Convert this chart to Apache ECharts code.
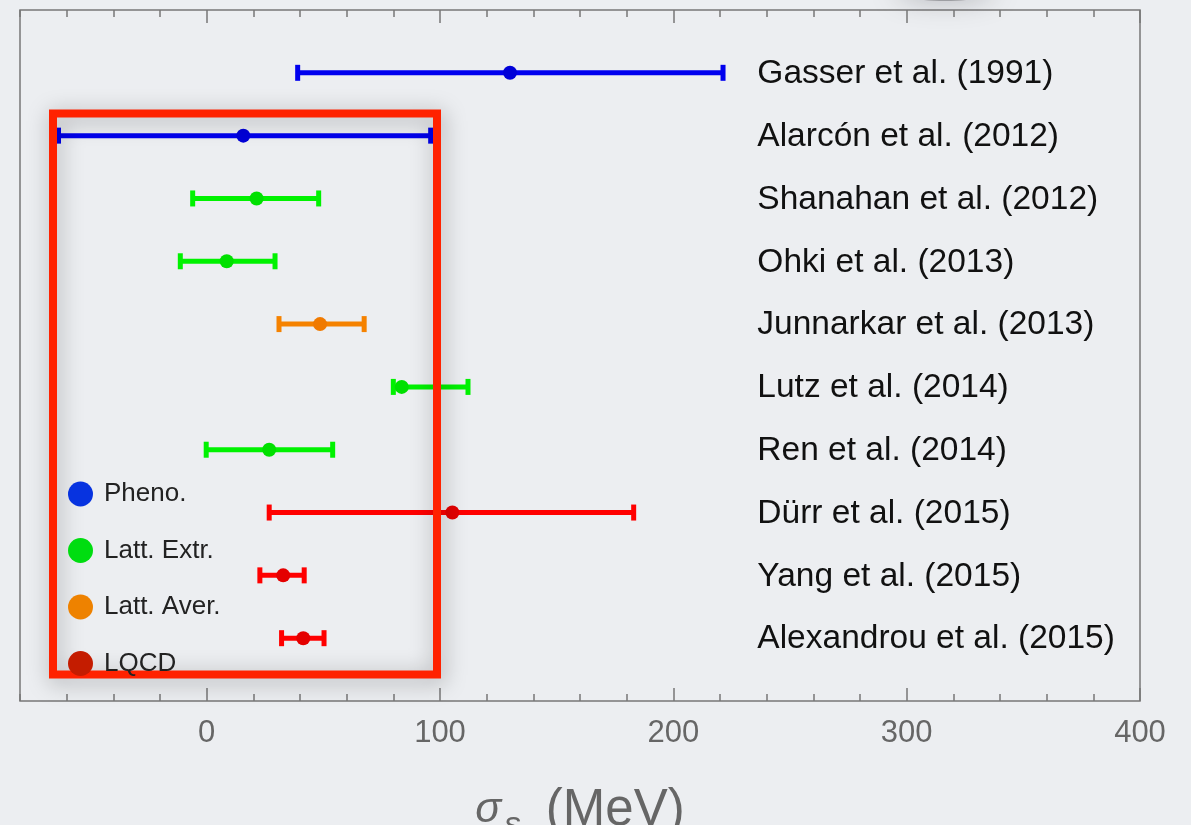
<!DOCTYPE html>
<html>
<head>
<meta charset="utf-8">
<script src="https://cdn.jsdelivr.net/npm/echarts@6/dist/echarts.min.js"></script>
<style>
  html, body { margin: 0; padding: 0; background: #eceef1; }
  #chart { width: 1191px; height: 825px; }
</style>
</head>
<body>
<div id="chart"></div>
<script>
// Strange-quark sigma term determinations (MeV): central value with lower/upper ends of the error bar
const studies = [
  'Gasser et al. (1991)',
  'Alarcón et al. (2012)',
  'Shanahan et al. (2012)',
  'Ohki et al. (2013)',
  'Junnarkar et al. (2013)',
  'Lutz et al. (2014)',
  'Ren et al. (2014)',
  'Dürr et al. (2015)',
  'Yang et al. (2015)',
  'Alexandrou et al. (2015)'
];
const central = [130, 15.7, 21.4, 8.6, 48.6, 83.6, 26.8, 105.3, 32.8, 41.4];
const lower   = [39, -63.5, -6, -11.3, 31, 80, -0.2, 26.8, 22.8, 32.1];
const upper   = [221.3, 96, 48, 29.3, 67.5, 112, 54, 183, 41.8, 50.3];
const method  = ['Pheno.', 'Pheno.', 'Latt. Extr.', 'Latt. Extr.', 'Latt. Aver.',
                 'Latt. Extr.', 'Latt. Extr.', 'LQCD', 'LQCD', 'LQCD'];

const groups      = ['Pheno.', 'Latt. Extr.', 'Latt. Aver.', 'LQCD'];
const barColors   = ['#0000ee', '#00f200', '#f58200', '#ff0000'];
const dotColors   = ['#0000d8', '#00e000', '#f07a00', '#e40000'];
const keyColors   = ['#0733e0', '#00dd10', '#ee8200', '#c41c00'];

const majorTicks = [0, 100, 200, 300, 400];

const FONT = '"Liberation Sans", Arial, Helvetica, sans-serif';
const labelX = 236;   // data-space x where the study names start

const chart = echarts.init(document.getElementById('chart'), null, { renderer: 'canvas' });

function renderItem(params, api) {
  const row = api.value(0);
  const pL = api.coord([api.value(1), row]);
  const pC = api.coord([api.value(2), row]);
  const pH = api.coord([api.value(3), row]);
  const g = groups.indexOf(method[row]);
  const bar = barColors[g];
  const capW = 5, capH = 16;
  return {
    type: 'group',
    children: [
      { type: 'line', shape: { x1: pL[0], y1: pL[1], x2: pH[0], y2: pH[1] },
        style: { stroke: bar, lineWidth: 5 } },
      { type: 'rect', shape: { x: pL[0] - capW / 2, y: pL[1] - capH / 2, width: capW, height: capH },
        style: { fill: bar } },
      { type: 'rect', shape: { x: pH[0] - capW / 2, y: pH[1] - capH / 2, width: capW, height: capH },
        style: { fill: bar } },
      { type: 'circle', shape: { cx: pC[0], cy: pC[1], r: 7 },
        style: { fill: dotColors[g] } },
      { type: 'text', x: api.coord([labelX, row])[0], y: pC[1] + 1,
        style: { text: studies[row], fill: '#111', font: '33.5px ' + FONT,
                 align: 'left', verticalAlign: 'middle' } }
    ]
  };
}

const series = groups.map((grp, gi) => ({
  name: grp,
  type: 'custom',
  renderItem: renderItem,
  itemStyle: { color: keyColors[gi] },
  encode: { x: [1, 2, 3], y: 0 },
  data: studies.map((s, i) => i)
    .filter(i => method[i] === grp)
    .map(i => [i, lower[i], central[i], upper[i]]),
  z: 2
}));

const tickStyle = { color: '#777', width: 1.5 };

function axis(position, kind) {
  const base = {
    type: 'value', position: position, min: -80, max: 400,
    axisLine: { show: false, onZero: false }, splitLine: { show: false },
    axisLabel: { show: false }
  };
  if (kind === 'minor') {
    base.interval = 20;
    base.axisTick = { show: true, inside: true, length: 7, lineStyle: tickStyle };
  } else {
    base.axisTick = { show: true, inside: true, length: 13, customValues: majorTicks, lineStyle: tickStyle };
  }
  return base;
}

const xMain = axis('bottom', 'minor');
xMain.axisLabel = {
  show: true, customValues: majorTicks, color: '#666', fontSize: 31,
  fontFamily: FONT, margin: 17
};
xMain.name = '{sig|σ}{sub|s}{unit|(MeV)}';
xMain.nameLocation = 'middle';
xMain.nameGap = 84;
xMain.nameTextStyle = {
  color: '#666',
  rich: {
    sig:  { fontSize: 43, fontStyle: 'italic', fontFamily: FONT, color: '#666', padding: [0, 3, 1, 0] },
    sub:  { fontSize: 33, fontStyle: 'italic', fontFamily: FONT, color: '#666', verticalAlign: 'bottom', padding: [0, 25, -6, 0] },
    unit: { fontSize: 51, fontFamily: FONT, color: '#666' }
  }
};

const option = {
  backgroundColor: '#eceef1',
  animation: false,
  grid: {
    left: 20, right: 51, top: 10, bottom: 124,
    outerBoundsMode: 'none', containLabel: false,
    show: true, borderColor: '#777', borderWidth: 1.5, backgroundColor: 'transparent'
  },
  xAxis: [xMain, axis('bottom', 'major'), axis('top', 'minor'), axis('top', 'major')],
  yAxis: {
    type: 'value', min: -1, max: 10, inverse: true,
    axisLine: { show: false, onZero: false }, axisTick: { show: false },
    axisLabel: { show: false }, splitLine: { show: false }
  },
  legend: {
    orient: 'vertical', left: 63, top: 476, z: 120,
    icon: 'circle', itemWidth: 25, itemHeight: 25, itemGap: 30.5,
    selectedMode: false,
    textStyle: { fontSize: 26, fontFamily: FONT, color: '#222', lineHeight: 25, padding: [0, 0, 0, 6] },
    data: groups.map((g, i) => ({ name: g, itemStyle: { color: keyColors[i] } }))
  },
  graphic: [
    {
      // soft shadow blob along the upper edge
      type: 'ellipse', z: 0, silent: true,
      shape: { cx: 945, cy: -10, rx: 50, ry: 11 },
      style: { fill: 'rgba(105,105,110,0.5)', shadowBlur: 26, shadowColor: 'rgba(85,85,90,0.75)' }
    },
    {
      // highlight frame round the low-value region
      type: 'rect', z: 100, silent: true,
      shape: { x: 53, y: 113.5, width: 384, height: 561 },
      style: {
        fill: 'none', stroke: '#ff2200', lineWidth: 8,
        shadowBlur: 22, shadowOffsetX: 2, shadowOffsetY: 4, shadowColor: 'rgba(0,0,0,0.34)'
      }
    }
  ],
  series: series
};

chart.setOption(option);
</script>
</body>
</html>
